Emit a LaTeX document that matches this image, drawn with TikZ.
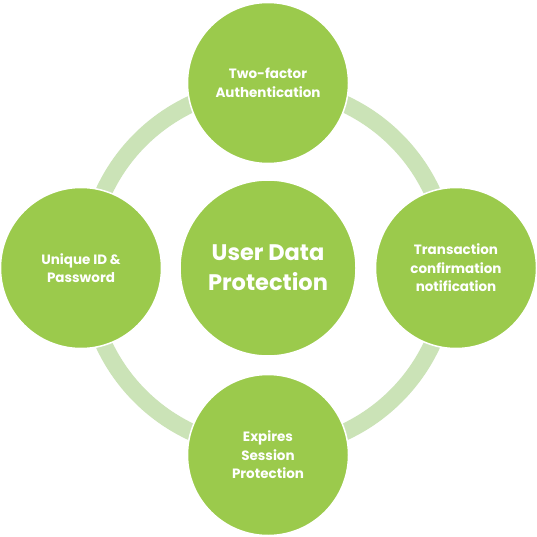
\documentclass[tikz,border=0pt]{standalone}
\usepackage{fontspec}
\setmainfont{Poppins}
\definecolor{leaf}{RGB}{155,202,76}
\definecolor{ringc}{RGB}{203,227,183}
\begin{document}
\begin{tikzpicture}[x=1pt,y=-1pt,
  sat/.style={circle,fill=leaf,draw=white,line width=1.5pt,minimum size=161pt,inner sep=0pt,
    text=white,align=center,font=\bfseries\fontsize{13.5}{18.5}\selectfont},
  hub/.style={circle,fill=leaf,draw=white,line width=1.5pt,minimum size=176pt,inner sep=0pt,
    text=white,align=center,font=\bfseries\fontsize{22.5}{30}\selectfont}]
\useasboundingbox (0,0) rectangle (537,537);
\fill[white] (0,0) rectangle (537,537);
\coordinate (c) at (268,268);
\draw[ringc,line width=17pt] (c) circle[radius=181];
\node[hub] (hubn) at (268,268) {User Data\\Protection};
\node[sat] (top) at (268,83) {Two-factor\\Authentication};
\node[sat] (left) at (81,268) {Unique ID \&\\Password};
\node[sat] (right) at (456,268) {Transaction\\confirmation\\notification};
\node[sat] (bottom) at (268,455) {Expires\\Session\\Protection};
\end{tikzpicture}
\end{document}
